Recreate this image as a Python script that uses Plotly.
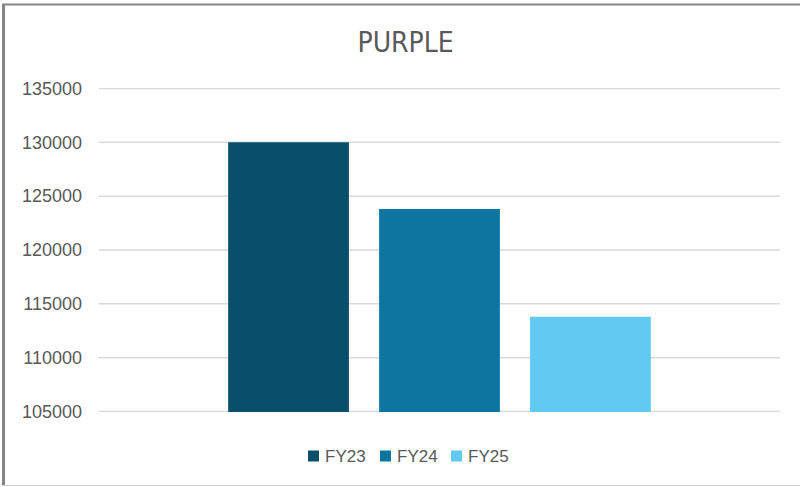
import plotly.graph_objects as go

categories = ["PURPLE"]
series_names = ["FY23", "FY24", "FY25"]
fy23 = [130000]
fy24 = [123800]
fy25 = [113800]
colors = ["#0A4F69", "#0C75A0", "#61CAF3"]
y_ticks = [105000, 110000, 115000, 120000, 125000, 130000, 135000]

fig = go.Figure()
for name, vals, col in zip(series_names, [fy23, fy24, fy25], colors):
    fig.add_trace(go.Bar(x=categories, y=vals, name=name, showlegend=False,
                         marker=dict(color=col, line=dict(width=0))))

W, H = 800, 487
ml, mr, mt, mb = 99, 20, 88, 75
pw, ph = W - ml - mr, H - mt - mb


def px_x(x):
    return (x - ml) / pw


def px_y(y):
    return (H - mb - y) / ph


fig.update_layout(
    width=W, height=H,
    margin=dict(l=ml, r=mr, t=mt, b=mb, autoexpand=False),
    paper_bgcolor="white", plot_bgcolor="white",
    barmode="group", bargap=0.335, bargroupgap=0.2,
    title=dict(text="PURPLE", x=0.507, xanchor="center", y=1 - 42 / H, yanchor="middle",
               font=dict(family="DejaVu Sans Condensed, Liberation Sans Narrow, Liberation Sans, sans-serif",
                         size=28, color="#595959")),
    xaxis=dict(showticklabels=False, showgrid=False, zeroline=False, showline=False),
    yaxis=dict(range=[104960, 135040], tickvals=y_ticks, ticktext=[str(v) for v in y_ticks],
               showgrid=False, zeroline=False, showline=False,
               ticks="", ticklabelstandoff=16,
               tickfont=dict(family="Liberation Sans, Arial, sans-serif", size=18, color="#595959")),
    showlegend=False,
)

# horizontal gridlines at the tick values
for v in y_ticks:
    fig.add_shape(type="line", xref="paper", yref="y", x0=0, x1=1, y0=v, y1=v,
                  line=dict(color="#D9D9D9", width=1.5), layer="below")

# custom legend (square swatch + label), laid out like the reference
legend_x = [308, 380, 451]
legend_yc = 456
for name, col, lx in zip(series_names, colors, legend_x):
    fig.add_shape(type="rect", xref="paper", yref="paper",
                  x0=px_x(lx), x1=px_x(lx + 11), y0=px_y(legend_yc + 5.5), y1=px_y(legend_yc - 5.5),
                  fillcolor=col, line=dict(width=0))
    fig.add_annotation(text=name, xref="paper", yref="paper", x=px_x(lx + 15), y=px_y(legend_yc),
                       xanchor="left", yanchor="middle", showarrow=False,
                       font=dict(family="Liberation Sans, Arial, sans-serif", size=17, color="#595959"))

# outer chart frame (left, top, bottom edges)
fig.add_shape(type="line", xref="paper", yref="paper",
              x0=px_x(3.5), x1=px_x(3.5), y0=px_y(H - 1), y1=px_y(4),
              line=dict(color="#858585", width=3))
fig.add_shape(type="line", xref="paper", yref="paper",
              x0=px_x(2), x1=px_x(W), y0=px_y(4.5), y1=px_y(4.5),
              line=dict(color="#858585", width=2))
fig.add_shape(type="line", xref="paper", yref="paper",
              x0=px_x(2), x1=px_x(W), y0=px_y(H - 1.5), y1=px_y(H - 1.5),
              line=dict(color="#D0D0D0", width=1))

fig.write_html("out.html", config={"displayModeBar": False},
               post_script="document.body.style.margin='0';")
